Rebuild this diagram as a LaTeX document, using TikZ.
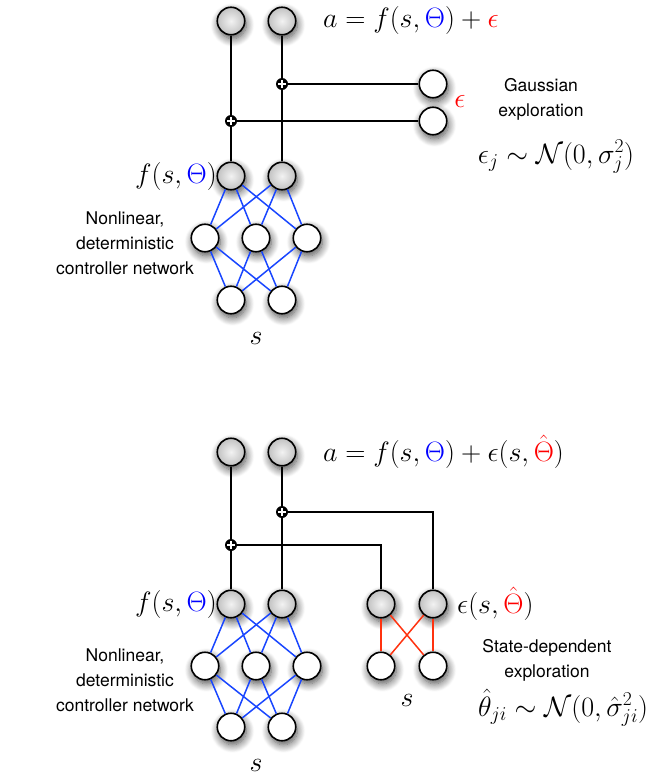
\RequirePackage{fix-cm}
\documentclass[tikz,border=0pt]{standalone}
\usepackage{fontspec}
\setsansfont{TeX Gyre Heros}
\usepackage{amsmath}
\usetikzlibrary{shadows.blur}
\definecolor{netblue}{RGB}{25,70,255}
\definecolor{netred}{RGB}{255,50,15}
\tikzset{
  neuron/.style={circle, draw=black, line width=1.6pt, minimum size=27.5pt, inner sep=0pt, fill=white,
    blur shadow={shadow xshift=1.5pt, shadow yshift=-4pt, shadow blur radius=8pt, shadow blur steps=10, shadow opacity=70}},
  gneuron/.style={neuron, inner color=gray!10, outer color=gray!48},
  junction/.style={circle, fill=black, minimum size=12pt, inner sep=0pt,
    path picture={\draw[white, line width=1.9pt]
      ([xshift=-3.6pt]path picture bounding box.center) -- ([xshift=3.6pt]path picture bounding box.center)
      ([yshift=-3.6pt]path picture bounding box.center) -- ([yshift=3.6pt]path picture bounding box.center);}},
  wire/.style={draw=black, line width=1.5pt},
  bwire/.style={draw=netblue, line width=1.5pt},
  rwire/.style={draw=netred, line width=1.5pt},
  mathlbl/.style={font=\fontsize{28}{32}\selectfont, inner sep=0pt},
  sanslbl/.style={font=\sffamily\fontsize{17.5}{25}\selectfont, align=center, inner sep=0pt},
}
\begin{document}
\begin{tikzpicture}[x=1pt,y=-1pt]
\path[use as bounding box] (0,0) rectangle (650,776);

% ===== Top diagram =====
\node[gneuron] (o1) at (231,21) {};
\node[gneuron] (o2) at (282,21) {};
\node[junction] (p2) at (282,84) {};
\node[junction] (p1) at (231,121) {};
\node[neuron] (n1) at (433,84) {};
\node[neuron] (n2) at (433,121) {};
\node[gneuron] (f1) at (231,176) {};
\node[gneuron] (f2) at (282,176) {};
\node[neuron] (h1) at (205,238) {};
\node[neuron] (h2) at (256,238) {};
\node[neuron] (h3) at (307,238) {};
\node[neuron] (i1) at (231,300) {};
\node[neuron] (i2) at (282,300) {};

\draw[wire] (o1) -- (p1);
\draw[wire] (p1) -- (f1);
\draw[wire] (o2) -- (p2);
\draw[wire] (p2) -- (f2);
\draw[wire] (p2) -- (n1);
\draw[wire] (p1) -- (n2);
\foreach \a in {f1,f2} \foreach \b in {h1,h2,h3} \draw[bwire] (\a) -- (\b);
\foreach \a in {h1,h2,h3} \foreach \b in {i1,i2} \draw[bwire] (\a) -- (\b);

\node[mathlbl, anchor=west] (ta) at (323,21) {$a = f(s,{\color{blue}\Theta}) + {\color{red}\epsilon}$};
\node[mathlbl, text=red] (teps) at (460,101) {$\epsilon$};
\node[sanslbl] (tgauss) at (541,99) {Gaussian\\exploration};
\node[mathlbl] (tdist) at (556,157) {$\epsilon_j \sim \mathcal{N}(0,\sigma_j^2)$};
\node[mathlbl, anchor=east] (tf) at (217,176) {$f(s,{\color{blue}\Theta})$};
\node[sanslbl] (tnl) at (125,243) {Nonlinear,\\deterministic\\controller network};
\node[mathlbl] (ts) at (256,338) {$s$};

% ===== Bottom diagram =====
\node[gneuron] (bo1) at (231,452) {};
\node[gneuron] (bo2) at (282,452) {};
\node[junction] (bp2) at (282,512) {};
\node[junction] (bp1) at (231,545) {};
\node[gneuron] (bf1) at (231,604) {};
\node[gneuron] (bf2) at (282,604) {};
\node[neuron] (bh1) at (205,666) {};
\node[neuron] (bh2) at (256,666) {};
\node[neuron] (bh3) at (307,666) {};
\node[neuron] (bi1) at (231,727) {};
\node[neuron] (bi2) at (282,727) {};
\node[gneuron] (be1) at (381,604) {};
\node[gneuron] (be2) at (433,604) {};
\node[neuron] (bx1) at (381,666) {};
\node[neuron] (bx2) at (433,666) {};

\draw[wire] (bo1) -- (bp1);
\draw[wire] (bp1) -- (bf1);
\draw[wire] (bo2) -- (bp2);
\draw[wire] (bp2) -- (bf2);
\draw[wire] (bp2) -| (be2);
\draw[wire] (bp1) -| (be1);
\foreach \a in {bf1,bf2} \foreach \b in {bh1,bh2,bh3} \draw[bwire] (\a) -- (\b);
\foreach \a in {bh1,bh2,bh3} \foreach \b in {bi1,bi2} \draw[bwire] (\a) -- (\b);
\foreach \a in {be1,be2} \foreach \b in {bx1,bx2} \draw[rwire] (\a) -- (\b);

\node[mathlbl, anchor=west] (bta) at (323,452) {$a = f(s,{\color{blue}\Theta}) + \epsilon(s,{\color{red}\hat{\Theta}})$};
\node[mathlbl, anchor=east] (btf) at (217,604) {$f(s,{\color{blue}\Theta})$};
\node[mathlbl, anchor=west] (bte) at (457,604) {$\epsilon(s,{\color{red}\hat{\Theta}})$};
\node[sanslbl] (btnl) at (125,680) {Nonlinear,\\deterministic\\controller network};
\node[sanslbl] (btsd) at (547,660) {State-dependent\\exploration};
\node[mathlbl] (btdist) at (563,708) {$\hat{\theta}_{ji} \sim \mathcal{N}(0,\hat{\sigma}_{ji}^2)$};
\node[mathlbl] (bts1) at (407,700) {$s$};
\node[mathlbl] (bts2) at (256,765) {$s$};
\end{tikzpicture}
\end{document}
